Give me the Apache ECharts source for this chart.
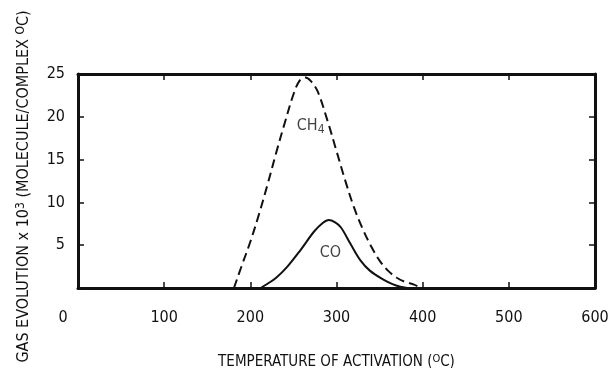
<!DOCTYPE html>
<html>
<head>
<meta charset="utf-8">
<script src="https://cdn.jsdelivr.net/npm/echarts@6/dist/echarts.min.js"></script>
<style>html,body{margin:0;padding:0;background:#fff;}#c{width:608px;height:368px;}</style>
</head>
<body>
<div id="c"></div>
<script>
// Temperature of activation (°C) and gas evolution (x10^3 molecule/complex °C)
var ch4Temp   = [181, 190, 200, 210, 220, 230, 240, 250, 257, 264, 270, 278, 290, 300, 310, 320, 330, 340, 350, 360, 370, 380, 390, 398];
var ch4Values = [0,   2.6, 5.4, 8.6, 12.1, 15.8, 19.3, 22.6, 24.2, 24.6, 24.2, 23.0, 19.4, 16.0, 12.6, 9.5, 7.0, 4.9, 3.2, 2.0, 1.2, 0.7, 0.4, 0];
var coTemp    = [212, 220, 230, 243, 258, 274, 284, 291, 298, 305, 316, 328, 339, 355, 365, 374, 382];
var coValues  = [0,   0.5, 1.2, 2.5, 4.4, 6.6, 7.6, 7.95, 7.7, 7.1, 5.2, 3.2, 2.0, 0.95, 0.45, 0.15, 0];
var xTicks = [0, 100, 200, 300, 400, 500, 600];
var yTicks = [5, 10, 15, 20, 25];
var curveLabels = [
  {name: 'CH4', temp: 270, value: 19.0},
  {name: 'CO',  temp: 293, value: 4.1}
];

var FONT = '"DejaVu Sans Condensed", "DejaVu Sans", sans-serif';
var black = '#111';

function pairs(xs, ys) { return xs.map(function (x, i) { return [x, ys[i]]; }); }

var frameLine = {show: true, onZero: false, lineStyle: {color: black, width: 3}};
var tick = {show: true, inside: true, length: 6, lineStyle: {color: black, width: 1.5}};

var chart = echarts.init(document.getElementById('c'), null, {renderer: 'canvas'});
chart.setOption({
  backgroundColor: '#fff',
  animation: false,
  grid: {left: 78, right: 13, top: 74, bottom: 80, containLabel: false, outerBoundsMode: 'none'},
  xAxis: [{
    type: 'value', position: 'bottom', min: 0, max: 600, interval: 100,
    axisLine: frameLine, axisTick: tick, splitLine: {show: false},
    axisLabel: {
      color: black, fontFamily: FONT, fontSize: 16, margin: 22,
      formatter: function (v) { return v === 0 ? '{z|0}' : String(v); },
      rich: {z: {padding: [0, 30, 0, 0], fontFamily: FONT, fontSize: 16, color: black}}
    },
    name: 'TEMPERATURE OF ACTIVATION ({s|O}C)',
    nameLocation: 'middle', nameGap: 66,
    nameTextStyle: {
      color: black, fontFamily: FONT, fontSize: 15, lineHeight: 17,
      rich: {s: {fontSize: 11, verticalAlign: 'top', lineHeight: 17, fontFamily: FONT, color: black}}
    }
  }, {
    type: 'value', position: 'top', min: 0, max: 600, interval: 100,
    axisLine: frameLine, axisTick: tick, axisLabel: {show: false}, splitLine: {show: false}
  }],
  yAxis: [{
    type: 'value', position: 'left', min: 0, max: 25, interval: 5,
    axisLine: frameLine, axisTick: tick, splitLine: {show: false},
    axisLabel: {
      color: black, fontFamily: FONT, fontSize: 16, margin: 13,
      formatter: function (v) { return yTicks.indexOf(v) >= 0 ? String(v) : ''; }
    },
    name: 'GAS EVOLUTION x 10{s|3} (MOLECULE/COMPLEX {s|O}C)',
    nameLocation: 'middle', nameGap: 45,
    nameTextStyle: {
      color: black, fontFamily: FONT, fontSize: 16, lineHeight: 18, padding: [0, 11, 0, 0],
      rich: {s: {fontSize: 12, verticalAlign: 'top', lineHeight: 18, fontFamily: FONT, color: black}}
    }
  }, {
    type: 'value', position: 'right', min: 0, max: 25, interval: 5,
    axisLine: frameLine, axisTick: tick, axisLabel: {show: false}, splitLine: {show: false}
  }],
  series: [{
    name: 'CH4', type: 'line', data: pairs(ch4Temp, ch4Values),
    showSymbol: false, smooth: 0.35,
    lineStyle: {color: black, width: 2, type: [9, 5]}
  }, {
    name: 'CO', type: 'line', data: pairs(coTemp, coValues),
    showSymbol: false, smooth: 0.35,
    lineStyle: {color: black, width: 2}
  }, {
    type: 'scatter', symbolSize: 0, silent: true,
    data: curveLabels.map(function (d) { return {name: d.name, value: [d.temp, d.value]}; }),
    label: {
      show: true, position: 'inside', color: black, fontFamily: FONT, fontSize: 16,
      formatter: function (p) { return p.name === 'CH4' ? 'CH{sub|4}' : p.name; },
      rich: {sub: {fontSize: 12, verticalAlign: 'bottom', lineHeight: 22, fontFamily: FONT, color: black}}
    }
  }]
});
</script>
</body>
</html>
